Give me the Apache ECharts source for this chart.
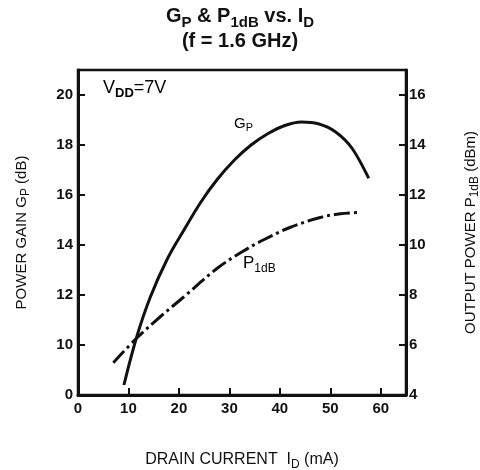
<!DOCTYPE html>
<html>
<head>
<meta charset="utf-8">
<script src="https://cdn.jsdelivr.net/npm/echarts@6/dist/echarts.min.js"></script>
<style>html,body{margin:0;padding:0;background:#fff}#c{width:480px;height:470px}</style>
</head>
<body>
<div id="c"></div>
<script>
// Drain current (mA) vs power gain Gp (dB)
const gpCurrent = [9.1, 11.6, 14.3, 17.6, 21.0, 24.3, 27.5, 31.0, 34.3, 37.6, 41.0, 44.3, 47.6, 51.0, 54.3, 57.6];
const gpValues  = [8.4, 10.3, 11.9, 13.4, 14.6, 15.7, 16.6, 17.4, 18.0, 18.45, 18.78, 18.92, 18.85, 18.53, 17.87, 16.67];
// Drain current (mA) vs output power P1dB (dBm)
const p1Current = [7.0, 11.6, 16.3, 21.0, 27.6, 32.7, 36.7, 42.0, 48.0, 52.0, 55.9];
const p1Values  = [5.29, 6.27, 7.13, 7.93, 9.07, 9.75, 10.2, 10.7, 11.1, 11.25, 11.3];
// Tick labels
const xTicks = [0, 10, 20, 30, 40, 50, 60];
const leftTicks = [8, 10, 12, 14, 16, 18, 20];
const leftTickText = ['0', '10', '12', '14', '16', '18', '20'];
const rightTicks = [4, 6, 8, 10, 12, 14, 16];

const FONT = '"Liberation Sans", Arial, sans-serif';
const INK = '#111';

const chart = echarts.init(document.getElementById('c'), null, {renderer: 'canvas'});
const tickLabel = {color: INK, fontFamily: FONT, fontSize: 15, fontWeight: 'bold'};
const nameRich = (size, sub) => ({
  n: {fontFamily: FONT, fontSize: size, color: INK, verticalAlign: 'bottom', padding: [0, 0, 3, 0]},
  s: {fontFamily: FONT, fontSize: sub, color: INK, verticalAlign: 'bottom'}
});

chart.setOption({
  animation: false,
  backgroundColor: '#fff',
  title: {
    left: 'center', top: 2,
    text: '{a|G}{s|P}{a| & P}{s|1dB}{a| vs. I}{s|D}\n{b|(f = 1.6 GHz)}',
    textStyle: {
      fontFamily: FONT, color: INK,
      rich: {
        a: {fontFamily: FONT, fontSize: 20, fontWeight: 'bold', color: INK, verticalAlign: 'bottom', padding: [0, 0, 4, 0], lineHeight: 23},
        s: {fontFamily: FONT, fontSize: 15, fontWeight: 'bold', color: INK, verticalAlign: 'bottom', lineHeight: 23},
        b: {fontFamily: FONT, fontSize: 20, fontWeight: 'bold', color: INK, lineHeight: 23, align: 'center'}
      }
    }
  },
  grid: {left: 78, right: 74, top: 70, bottom: 75, outerBoundsMode: 'none', containLabel: false,
         show: true, borderColor: INK, borderWidth: 2.5},
  xAxis: {
    type: 'value', min: 0, max: 65, interval: 10,
    axisLine: {show: true, lineStyle: {color: INK, width: 3}},
    axisTick: {show: true, inside: true, length: 7, lineStyle: {color: INK, width: 2}},
    splitLine: {show: false},
    axisLabel: Object.assign({}, tickLabel, {margin: 6, formatter: v => xTicks.includes(v) ? String(v) : ''}),
    name: '{n|DRAIN CURRENT  I}{s|D}{n| (mA)}',
    nameLocation: 'middle', nameGap: 57,
    nameTextStyle: {rich: nameRich(16, 12)}
  },
  yAxis: [
    {
      type: 'value', min: 8, max: 21, interval: 2, position: 'left',
      axisLine: {show: true, lineStyle: {color: INK, width: 3}},
      axisTick: {show: true, inside: true, length: 7, lineStyle: {color: INK, width: 2}},
      splitLine: {show: false},
      axisLabel: Object.assign({}, tickLabel, {margin: 5, formatter: v => {
        const i = leftTicks.indexOf(v); return i >= 0 ? leftTickText[i] : '';
      }}),
      name: '{n|POWER GAIN G}{s|P}{n| (dB)}',
      nameLocation: 'middle', nameGap: 46,
      nameTextStyle: {rich: nameRich(15, 12)}
    },
    {
      type: 'value', min: 4, max: 17, interval: 2, position: 'right',
      axisLine: {show: true, lineStyle: {color: INK, width: 3}},
      axisTick: {show: true, inside: true, length: 7, lineStyle: {color: INK, width: 2}},
      splitLine: {show: false},
      axisLabel: Object.assign({}, tickLabel, {margin: 3, formatter: v => rightTicks.includes(v) ? String(v) : ''}),
      name: '{n|OUTPUT POWER P}{s|1dB}{n| (dBm)}',
      nameLocation: 'middle', nameGap: 57, nameRotate: 90,
      nameTextStyle: {rich: nameRich(15, 12)}
    }
  ],
  series: [
    {
      name: 'Gp', type: 'line', yAxisIndex: 0, smooth: 0.35, symbol: 'none',
      lineStyle: {color: INK, width: 3},
      data: gpCurrent.map((x, i) => [x, gpValues[i]])
    },
    {
      name: 'P1dB', type: 'line', yAxisIndex: 1, smooth: 0.35, symbol: 'none',
      lineStyle: {color: INK, width: 3, type: [16, 4, 3, 4]},
      data: p1Current.map((x, i) => [x, p1Values[i]])
    }
  ],
  graphic: [
    {type: 'text', left: 103, top: 79, style: {
      text: '{a|V}{s|DD}{a|=7V}', fontFamily: FONT,
      rich: {
        a: {fontFamily: FONT, fontSize: 18, color: INK, verticalAlign: 'bottom', padding: [0, 0, 3, 0]},
        s: {fontFamily: FONT, fontSize: 13, color: INK, verticalAlign: 'bottom', fontWeight: 'bold'}
      }}},
    {type: 'text', left: 234, top: 116, style: {
      text: '{a|G}{s|P}', fontFamily: FONT,
      rich: {
        a: {fontFamily: FONT, fontSize: 15, color: INK, verticalAlign: 'bottom', padding: [0, 0, 2, 0]},
        s: {fontFamily: FONT, fontSize: 11, color: INK, verticalAlign: 'bottom'}
      }}},
    {type: 'text', left: 243, top: 255, style: {
      text: '{a|P}{s|1dB}', fontFamily: FONT,
      rich: {
        a: {fontFamily: FONT, fontSize: 17, color: INK, verticalAlign: 'bottom', padding: [0, 0, 3, 0]},
        s: {fontFamily: FONT, fontSize: 12, color: INK, verticalAlign: 'bottom'}
      }}}
  ]
});
</script>
</body>
</html>
